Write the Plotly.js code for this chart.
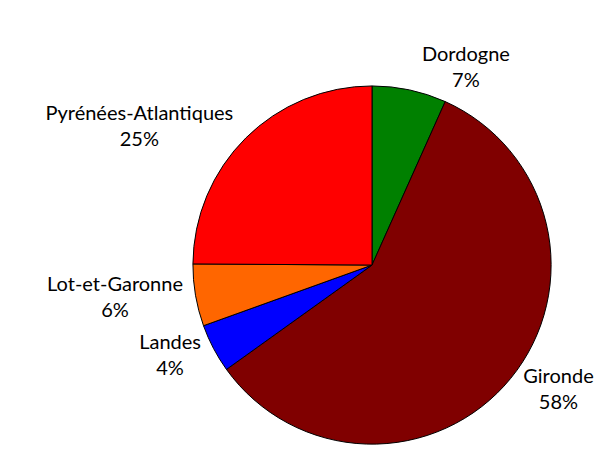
<!DOCTYPE html>
<html>
<head>
<meta charset="utf-8">
<script src="https://cdn.plot.ly/plotly-3.0.1.min.js"></script>
<style>html,body{margin:0;padding:0;background:#fff}</style>
</head>
<body>
<div id="chart" style="width:601px;height:450px"></div>
<script>
var labels = ['Dordogne', 'Gironde', 'Landes', 'Lot-et-Garonne', 'Pyrénées-Atlantiques'];
var values = [6.7, 58.4, 4.4, 5.6, 24.9];
var colors = ['#008000', '#800000', '#0000ff', '#ff6600', '#ff0000'];

var data = [{
  type: 'pie',
  labels: labels,
  values: values,
  sort: false,
  direction: 'clockwise',
  rotation: 0,
  marker: {colors: colors, line: {color: '#000', width: 1}},
  texttemplate: '%{label}<br>%{percent:.0%}',
  textposition: 'outside',
  textfont: {family: 'Lato, sans-serif', size: 20, color: '#000'},
  hoverinfo: 'label+percent',
  domain: {x: [0.321, 0.917], y: [0.013, 0.809]}
}];

var layout = {
  width: 601,
  height: 450,
  margin: {l: 0, r: 0, t: 0, b: 0},
  showlegend: false,
  paper_bgcolor: '#fff'
};

Plotly.newPlot('chart', data, layout, {displayModeBar: false});
</script>
</body>
</html>
